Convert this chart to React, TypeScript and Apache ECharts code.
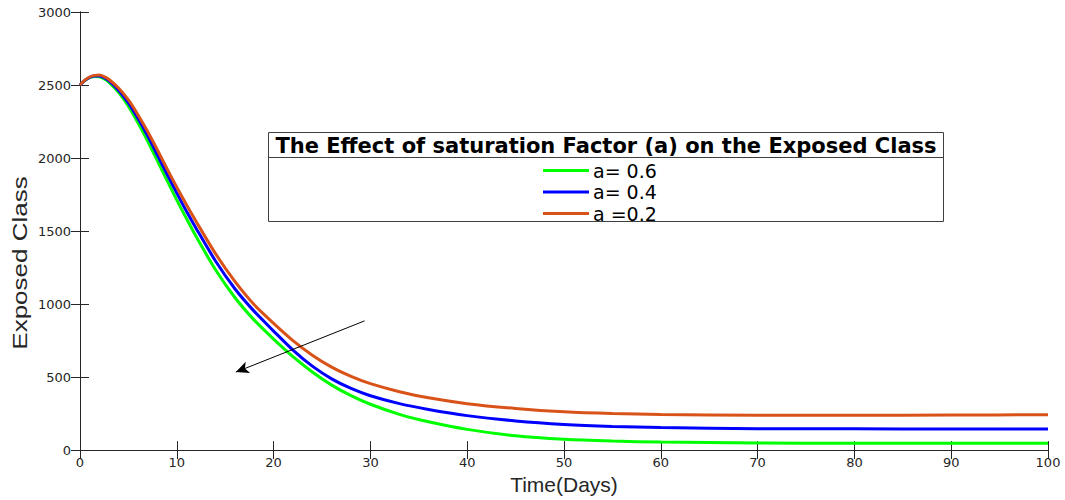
import React, { useEffect, useRef } from "react";
import * as echarts from "echarts";

// Time (days) at which the exposed-class curves are sampled
const days = [0, 0.5, 1, 1.5, 2, 2.5, 3, 4, 5, 6, 7, 8, 9, 10, 11, 12, 14, 16, 18, 20, 22, 24, 26, 28, 30, 33, 36, 40, 45, 50, 55, 60, 70, 80, 90, 100];

// Exposed class for each saturation factor
const exposedA06 = [2500, 2530, 2550, 2558, 2556, 2542, 2518, 2448, 2355, 2240, 2115, 1980, 1845, 1712, 1585, 1462, 1235, 1045, 890, 760, 640, 535, 445, 373, 314, 245, 194, 142, 98, 74, 62, 55, 49, 47, 47, 47];
const exposedA04 = [2500, 2532, 2553, 2562, 2562, 2550, 2528, 2463, 2378, 2270, 2150, 2020, 1888, 1760, 1635, 1518, 1295, 1105, 950, 815, 685, 575, 488, 422, 372, 318, 278, 236, 200, 176, 162, 154, 147, 145.5, 145, 145];
const exposedA02 = [2500, 2533, 2555, 2566, 2568, 2558, 2538, 2478, 2398, 2295, 2180, 2055, 1925, 1800, 1680, 1565, 1345, 1155, 995, 868, 750, 650, 568, 505, 455, 400, 358, 318, 285, 262, 250, 244, 239, 239, 240, 242];

const seriesNames = ["a= 0.6", "a= 0.4", "a =0.2"];
const seriesColors = ["#00ff00", "#0000ff", "#d95319"];
const seriesValues = [exposedA06, exposedA04, exposedA02];

// Annotation arrow: from (day, value) to (day, value)
const arrowFrom = [29.4, 885];
const arrowTo = [16.1, 534];

const legendTitle = "The Effect of saturation Factor (a) on the Exposed Class";
const yAxisTitle = "Exposed Class";

const axisColor = "#262626";
const tickFont = "DejaVu Sans";
const nameFont = "Liberation Sans Narrow, Liberation Sans, Arial";

export default function App() {
  const ref = useRef<HTMLDivElement>(null);

  useEffect(() => {
    if (!ref.current) return;
    const chart = echarts.init(ref.current, null, { renderer: "svg" });

    const series = seriesValues.map((vals, i) => {
      const s: any = {
        name: seriesNames[i],
        type: "line",
        data: days.map((d, j) => [d, vals[j]]),
        symbol: "none",
        smooth: 0.25,
        lineStyle: { color: seriesColors[i], width: 3 },
        itemStyle: { color: seriesColors[i] },
        z: 2 + i,
      };
      if (i === seriesValues.length - 1) {
        s.markLine = {
          silent: true,
          symbol: ["none", "arrow"],
          symbolSize: [9, 13],
          label: { show: false },
          lineStyle: { color: "#000", width: 1, type: "solid" },
          data: [[{ coord: arrowFrom, symbol: "none" }, { coord: arrowTo, symbol: "arrow" }]],
        };
      }
      return s;
    });

    const baseTick = { show: true, inside: true, length: 9, lineStyle: { color: axisColor, width: 1 } };
    const plain = (v: number) => String(v);

    chart.setOption({
      animation: false,
      backgroundColor: "#ffffff",
      grid: { left: 80, right: 17, top: 12, bottom: 43, containLabel: false },
      xAxis: [
        {
          type: "value",
          min: 0,
          max: 100,
          interval: 10,
          name: "Time(Days)",
          nameLocation: "middle",
          nameGap: 20,
          nameTextStyle: { color: axisColor, fontSize: 21, fontFamily: nameFont },
          axisLine: { show: true, lineStyle: { color: axisColor, width: 1 } },
          axisTick: baseTick,
          axisLabel: { color: axisColor, fontSize: 13, fontFamily: tickFont, margin: 6, formatter: plain },
          splitLine: { show: false },
        },
        {
          type: "value",
          position: "top",
          min: 0,
          max: 100,
          interval: 10,
          axisLine: { show: true, lineStyle: { color: axisColor, width: 1 } },
          axisTick: baseTick,
          axisLabel: { show: false },
          splitLine: { show: false },
        },
      ],
      yAxis: [
        {
          type: "value",
          min: 0,
          max: 3000,
          interval: 500,
          axisLine: { show: true, lineStyle: { color: axisColor, width: 1 } },
          axisTick: baseTick,
          axisLabel: { color: axisColor, fontSize: 13, fontFamily: tickFont, margin: 9, formatter: plain },
          splitLine: { show: false },
        },
        {
          type: "value",
          position: "right",
          min: 0,
          max: 3000,
          interval: 500,
          axisLine: { show: true, lineStyle: { color: axisColor, width: 1 } },
          axisTick: baseTick,
          axisLabel: { show: false },
          splitLine: { show: false },
        },
      ],
      legend: {
        orient: "vertical",
        left: 543,
        top: 161,
        padding: 0,
        icon: "rect",
        itemWidth: 46,
        itemHeight: 3,
        itemGap: 2.5,
        z: 6,
        textStyle: { color: "#000", fontSize: 19, lineHeight: 18, fontFamily: "DejaVu Sans", padding: [0, 0, 0, -1] },
        data: seriesNames,
      },
      graphic: [
        {
          type: "rect",
          z: 5,
          shape: { x: 268.5, y: 132.5, width: 675, height: 89 },
          style: { fill: "#ffffff", stroke: "#404040", lineWidth: 1 },
        },
        {
          type: "line",
          z: 5,
          shape: { x1: 268.5, y1: 157.5, x2: 943.5, y2: 157.5 },
          style: { stroke: "#404040", lineWidth: 1 },
        },
        {
          type: "text",
          z: 6,
          x: 606,
          y: 145.5,
          style: {
            text: legendTitle,
            fill: "#000",
            font: "bold 21px 'DejaVu Sans'",
            textAlign: "center",
            textVerticalAlign: "middle",
          },
        },
        {
          // Y-axis title, drawn upright along the left edge
          type: "text",
          z: 6,
          x: 20,
          y: 263,
          rotation: Math.PI / 2,
          scaleX: 1.3,
          style: {
            text: yAxisTitle,
            fill: axisColor,
            font: "20px 'Liberation Sans', Arial",
            textAlign: "center",
            textVerticalAlign: "middle",
          },
        },
      ],
      series,
    });

    return () => chart.dispose();
  }, []);

  return <div ref={ref} style={{ position: "fixed", left: 0, top: 0, width: 1065, height: 500 }} />;
}
